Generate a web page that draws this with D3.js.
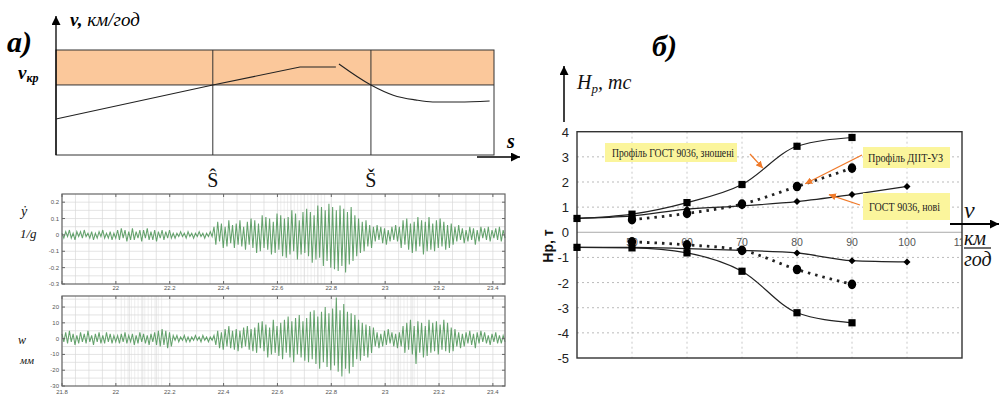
<!DOCTYPE html>
<html><head><meta charset="utf-8">
<script src="https://cdn.jsdelivr.net/npm/d3@7"></script>
<style>body{margin:0;background:#fff}svg{display:block}</style>
</head><body><svg id="c" width="999" height="398"></svg>
<script>
// ===== Panel a) speed profile along the track =====
const speedS1 = [0, 35.8, 55.7, 63.9];
const speedV1 = [34.3, 66.7, 83.8, 83.8];
const speedS2 = [64.6, 71.9, 77, 82, 86, 92, 99];
const speedV2 = [86.7, 66.7, 57, 52.5, 50.5, 50.5, 51.5];
const sMarks = [35.8, 71.9];
const sMarkLabels = ["Ŝ", "Š"];
const vCritical = 66.7;
const vBandTop = 100;

// ===== Vibration records (uniform sampling between start and end) =====
const sigStart = 21.8, sigEnd = 23.445;
// lateral acceleration, units of 0.01 (1/g)
const yDotValues = [
 1,-2,2,-1,3,-2,1,-3,2,-1,2,-2,3,-1,1,-2,2,-3,1,-2,2,-1,3,-2,1,-2,2,-3,1,-2,
 3,-3,4,-2,3,-4,2,-3,4,-3,2,-2,3,-4,3,-2,4,-3,2,-3,3,-4,2,-2,3,-3,2,-2,3,-2,
 1,-2,1,-1,2,-1,1,-2,2,-1,1,-2,1,-1,2,-1,1,-2,1,-1,2,-1,
 5,-6,8,-4,7,-8,5,-7,9,-5,6,-8,7,-6,9,-7,5,-9,8,-6,10,
 -8,9,-11,7,-10,12,-8,11,-9,10,-12,8,-11,13,
 -9,12,-13,10,-14,11,-12,15,-10,13,-15,9,-12,14,-11,
 16,-13,14,-17,12,-15,18,-14,17,-19,15,-16,19,-20,
 17,-21,15,-22,18,-19,16,-23,14,-18,17,-16,
 12,-13,10,-11,8,-10,9,-7,6,-8,
 5,-4,6,-3,5,-5,4,-6,3,-4,5,-3,6,-4,5,
 -8,9,-6,10,-9,7,-11,8,-10,11,-7,9,-12,8,-10,11,-9,7,-10,9,-8,10,-7,8,-9,6,-8,7,-6,
 5,-4,6,-3,4,-5,3,-4,5,-3,4,-6,3,-4,5,-2,4,-3,5,-4,3,-2,4,-3,5,-4,3,-2
];
// lateral displacement, mm
const wValues = [
 3,-2,4,-3,5,-2,3,-4,2,-3,4,-2,3,-3,5,-2,2,-4,3,-2,4,-3,2,-3,4,-2,3,-3,2,-2,
 2,-3,3,-2,4,-3,2,-2,3,-4,2,-3,4,-2,3,-3,2,-4,3,-2,4,
 -4,5,-5,6,-4,5,-6,4,-5,
 2,-1,2,-2,1,-1,2,-2,1,-2,1,-1,2,-1,1,-2,2,-1,1,-2,1,-1,2,
 -4,5,-6,4,-7,6,-5,8,-6,5,-7,6,-8,5,-6,7,-5,8,-7,6,-8,
 7,-9,10,-6,11,-8,9,-12,7,-10,12,-9,8,-11,
 10,-13,12,-9,14,-12,11,-15,13,-10,15,-12,11,-14,13,
 -15,17,-13,18,-16,14,-19,17,-15,20,-18,16,-20,19,
 -17,26,-21,18,-24,22,-19,17,-22,16,-18,15,
 -13,12,-14,10,-11,9,-12,8,-9,7,
 -5,4,-6,3,-5,5,-4,6,-3,4,-5,3,-6,4,-5,
 8,-9,10,-7,12,-10,8,-16,11,-9,10,-12,8,-11,12,-9,10,-8,11,-10,9,-7,12,-8,10,-9,7,-8,6,
 -5,4,-6,3,-5,4,-3,5,-4,3,-6,4,-3,5,-2,4,-3,2,-4,3,-2,4,-3,2,-3,2,-2
];
const yDotTicks = [0.2, 0.1, 0, -0.1, -0.2, -0.3];
const yDotTickLabels = ["0.2", "0.1", "0", "-0.1", "-0.2", "-0.3"];
const wTicks = [20, 10, 0, -10, -20, -30];
const sigXTicks = [21.8, 22, 22.2, 22.4, 22.6, 22.8, 23, 23.2, 23.4];
const sigXTickLabels = ["21.8", "22", "22.2", "22.4", "22.6", "22.8", "23", "23.2", "23.4"];

// ===== Panel б) frame force vs speed =====
const speedTicks = [50, 60, 70, 80, 90, 100, 110];
const forceTicks = [4, 3, 2, 1, 0, -1, -2, -3, -4, -5];
const wornSpeeds = [40, 50, 60, 70, 80, 90];
const wornUpper = [0.55, 0.72, 1.18, 1.9, 3.42, 3.77];
const wornLower = [-0.6, -0.62, -0.82, -1.55, -3.2, -3.6];
const diitSpeeds = [50, 60, 70, 80, 90];
const diitUpper = [0.5, 0.75, 1.12, 1.82, 2.55];
const diitLower = [-0.38, -0.5, -0.72, -1.48, -2.07];
const newSpeeds = [40, 50, 60, 70, 80, 90, 100];
const newUpper = [0.55, 0.65, 0.92, 1.05, 1.22, 1.5, 1.82];
const newLower = [-0.6, -0.6, -0.65, -0.72, -0.82, -1.13, -1.18];
const calloutLabels = ["Профіль ГОСТ 9036, зношені", "Профіль ДІІТ-УЗ", "ГОСТ 9036, нові"];

const SERIF = "'Liberation Serif','DejaVu Serif',serif";
const SANS = "'Liberation Sans',Arial,sans-serif";
const svg = d3.select("#c");
svg.append("rect").attr("width", 999).attr("height", 398).attr("fill", "#fff");
const defs = svg.append("defs");
function marker(id, color, size) {
  defs.append("marker").attr("id", id).attr("viewBox", "0 0 10 10")
    .attr("refX", 10).attr("refY", 5).attr("markerUnits", "userSpaceOnUse")
    .attr("markerWidth", size).attr("markerHeight", size).attr("orient", "auto")
    .append("path").attr("d", "M0,0L10,5L0,10z").attr("fill", color);
}
marker("ab", "#000", 9);
marker("ao", "#f07a2a", 7);
defs.append("clipPath").attr("id", "clip110").append("rect").attr("x", 900).attr("y", 230).attr("width", 62).attr("height", 20);

// ---------- Panel a ----------
const aX = d3.scaleLinear([0, 100], [56, 494]);
const aY = d3.scaleLinear([0, 100], [155, 50]);
const ga = svg.append("g");
ga.append("rect").attr("x", aX(0)).attr("y", aY(vBandTop))
  .attr("width", aX(100) - aX(0)).attr("height", aY(vCritical) - aY(vBandTop))
  .attr("fill", "#fbc89b");
ga.append("rect").attr("x", aX(0)).attr("y", aY(vBandTop))
  .attr("width", aX(100) - aX(0)).attr("height", aY(0) - aY(vBandTop))
  .attr("fill", "none").attr("stroke", "#333").attr("stroke-width", 1);
ga.append("line").attr("x1", aX(0)).attr("x2", aX(100)).attr("y1", aY(vCritical)).attr("y2", aY(vCritical))
  .attr("stroke", "#333").attr("stroke-width", 1);
sMarks.forEach((s, i) => {
  ga.append("line").attr("x1", aX(s)).attr("x2", aX(s)).attr("y1", aY(vBandTop)).attr("y2", aY(0))
    .attr("stroke", "#333").attr("stroke-width", 1);
  ga.append("text").attr("x", aX(s)).attr("y", 187).attr("text-anchor", "middle")
    .attr("font-family", SERIF).attr("font-size", 20).attr("fill", "#111").text(sMarkLabels[i]);
});
ga.append("line").attr("x1", aX(0)).attr("x2", aX(0)).attr("y1", aY(0)).attr("y2", 16)
  .attr("stroke", "#000").attr("stroke-width", 1.3).attr("marker-end", "url(#ab)");
ga.append("line").attr("x1", 477).attr("x2", 520).attr("y1", 157).attr("y2", 157)
  .attr("stroke", "#000").attr("stroke-width", 1.3).attr("marker-end", "url(#ab)");
const aLine1 = d3.line().x(i => aX(speedS1[i])).y(i => aY(speedV1[i]));
const aLine2 = d3.line().x(i => aX(speedS2[i])).y(i => aY(speedV2[i])).curve(d3.curveMonotoneX);
ga.append("path").attr("d", aLine1(d3.range(speedS1.length))).attr("fill", "none").attr("stroke", "#222").attr("stroke-width", 1.1);
ga.append("path").attr("d", aLine2(d3.range(speedS2.length))).attr("fill", "none").attr("stroke", "#222").attr("stroke-width", 1.1);
// labels
ga.append("text").attr("x", 7).attr("y", 52).attr("font-family", SERIF).attr("font-size", 30)
  .attr("font-weight", "bold").attr("font-style", "italic").attr("fill", "#000").text("a)");
const vt = ga.append("text").attr("x", 70).attr("y", 26).attr("font-family", SERIF).attr("font-size", 19)
  .attr("font-style", "italic").attr("fill", "#000");
vt.append("tspan").attr("font-weight", "bold").text("v,");
vt.append("tspan").text(" км/год");
const vk = ga.append("text").attr("x", 18).attr("y", 79).attr("font-family", SERIF).attr("font-size", 19)
  .attr("font-style", "italic").attr("font-weight", "bold").attr("fill", "#000");
vk.append("tspan").text("v");
vk.append("tspan").attr("font-size", 12).attr("dy", 3).text("кр");
ga.append("text").attr("x", 507).attr("y", 148).attr("font-family", SERIF).attr("font-size", 20)
  .attr("font-style", "italic").attr("font-weight", "bold").attr("fill", "#000").text("s");

// ---------- Signal panels ----------
const sx = d3.scaleLinear([sigStart, sigEnd], [62, 505]);
function signalPanel(values, unit, yDomain, yRange, gridStep, yTicks, yLabels, showFirstX, labelY, denseRanges) {
  const g = svg.append("g");
  const sy = d3.scaleLinear(yDomain, yRange);
  const [x0, x1] = sx.range();
  const [yb, yt] = yRange;
  d3.range(21.8, 23.45, 0.05).forEach(v => {
    g.append("line").attr("x1", sx(v)).attr("x2", sx(v)).attr("y1", yt).attr("y2", yb)
      .attr("stroke", "#d9d9d9").attr("stroke-width", 0.7);
  });
  denseRanges.forEach(r => d3.range(r[0], r[1], 0.0125).forEach(v => {
    g.append("line").attr("x1", sx(v)).attr("x2", sx(v)).attr("y1", yt).attr("y2", yb)
      .attr("stroke", "#e2e2e2").attr("stroke-width", 0.6);
  }));
  d3.range(yDomain[0] + gridStep, yDomain[1], gridStep).forEach(v => {
    g.append("line").attr("x1", x0).attr("x2", x1).attr("y1", sy(v)).attr("y2", sy(v))
      .attr("stroke", "#d9d9d9").attr("stroke-width", 0.7);
  });
  const n = values.length;
  const tAt = i => sigStart + i * (sigEnd - sigStart) / (n - 1);
  const line = d3.line().x((d, i) => sx(tAt(i))).y(d => sy(d * unit));
  g.append("path").attr("d", line(values)).attr("fill", "none")
    .attr("stroke", "#3f8c48").attr("stroke-width", 1.05).attr("stroke-opacity", 0.8);
  g.append("rect").attr("x", x0).attr("y", yt).attr("width", x1 - x0).attr("height", yb - yt)
    .attr("fill", "none").attr("stroke", "#666").attr("stroke-width", 1.2);
  sigXTicks.forEach((v, i) => {
    g.append("line").attr("x1", sx(v)).attr("x2", sx(v)).attr("y1", yb).attr("y2", yb - 3).attr("stroke", "#666");
    g.append("line").attr("x1", sx(v)).attr("x2", sx(v)).attr("y1", yt).attr("y2", yt + 3).attr("stroke", "#666");
    if (i > 0 || showFirstX)
      g.append("text").attr("x", sx(v)).attr("y", labelY).attr("text-anchor", "middle")
        .attr("font-family", SANS).attr("font-size", 6).attr("fill", "#555").text(sigXTickLabels[i]);
  });
  yTicks.forEach((v, i) => {
    g.append("line").attr("x1", x0).attr("x2", x0 + 3).attr("y1", sy(v)).attr("y2", sy(v)).attr("stroke", "#666");
    g.append("line").attr("x1", x1).attr("x2", x1 - 3).attr("y1", sy(v)).attr("y2", sy(v)).attr("stroke", "#666");
    g.append("text").attr("x", 59).attr("y", sy(v) + 2).attr("text-anchor", "end")
      .attr("font-family", SANS).attr("font-size", 6).attr("fill", "#555").text(yLabels[i]);
  });
  return g;
}
signalPanel(yDotValues, 0.01, [-0.3, 0.25], [284, 194], 0.05, yDotTicks, yDotTickLabels, false, 290, [[22.6, 22.78]]);
signalPanel(wValues, 1, [-30, 27], [386, 296], 5, wTicks, wTicks.map(String), true, 394, [[22.02, 22.18], [23.02, 23.13]]);
const lab = (x, y, t, s) => svg.append("text").attr("x", x).attr("y", y).attr("font-family", SERIF)
  .attr("font-size", s).attr("font-style", "italic").attr("fill", "#111").text(t);
lab(21, 216, "ẏ", 14);
lab(20, 238, "1/g", 13);
lab(18, 344, "w", 12);
lab(20, 364, "мм", 11);

// ---------- Panel б ----------
const xR = d3.scaleLinear([40, 110], [577, 962]);
const yR = d3.scaleLinear([-5, 4], [358, 131.7]);
const gb = svg.append("g");
speedTicks.slice(0, -1).forEach(v => {
  gb.append("line").attr("x1", xR(v)).attr("x2", xR(v)).attr("y1", yR(4)).attr("y2", yR(-5))
    .attr("stroke", "#bbb").attr("stroke-width", 0.8).attr("stroke-dasharray", "2,3");
});
forceTicks.forEach(v => {
  if (v === 4 || v === -5) return;
  gb.append("line").attr("x1", xR(40)).attr("x2", xR(110)).attr("y1", yR(v)).attr("y2", yR(v))
    .attr("stroke", "#aaa").attr("stroke-width", v === 0 ? 1 : 0.8)
    .attr("stroke-dasharray", v === 0 ? null : "2,3");
});
gb.append("rect").attr("x", xR(40)).attr("y", yR(4)).attr("width", xR(110) - xR(40)).attr("height", yR(-5) - yR(4))
  .attr("fill", "none").attr("stroke", "#333").attr("stroke-width", 1.4);
forceTicks.forEach(v => {
  gb.append("text").attr("x", 569).attr("y", yR(v) + 5).attr("text-anchor", "end")
    .attr("font-family", SANS).attr("font-size", 13).attr("fill", "#222").text(v);
});
speedTicks.forEach(v => {
  const t = gb.append("text").attr("x", xR(v)).attr("y", 246).attr("text-anchor", "middle")
    .attr("font-family", "'Liberation Sans Narrow','Liberation Sans',sans-serif").attr("font-size", 10.5).attr("fill", "#555").text(v);
  if (v === 110) t.attr("clip-path", "url(#clip110)");
});
function series(xs, ys, dotted, kind) {
  const idx = d3.range(xs.length);
  const line = d3.line().x(i => xR(xs[i])).y(i => yR(ys[i])).curve(d3.curveMonotoneX);
  gb.append("path").attr("d", line(idx)).attr("fill", "none").attr("stroke", "#222")
    .attr("stroke-width", dotted ? 2.8 : 1.2).attr("stroke-dasharray", dotted ? "2.5,5" : null);
  idx.forEach(i => {
    const cx = xR(xs[i]), cy = yR(ys[i]);
    if (kind === "square")
      gb.append("rect").attr("x", cx - 3.6).attr("y", cy - 3.6).attr("width", 7.2).attr("height", 7.2).attr("fill", "#000");
    else if (kind === "circle")
      gb.append("ellipse").attr("cx", cx).attr("cy", cy).attr("rx", 4.2).attr("ry", 4.8).attr("fill", "#000");
    else
      gb.append("path").attr("d", `M${cx},${cy - 3.5}L${cx + 3.5},${cy}L${cx},${cy + 3.5}L${cx - 3.5},${cy}Z`).attr("fill", "#000");
  });
}
series(newSpeeds, newUpper, false, "diamond");
series(newSpeeds, newLower, false, "diamond");
series(diitSpeeds, diitUpper, true, "circle");
series(diitSpeeds, diitLower, true, "circle");
series(wornSpeeds, wornUpper, false, "square");
series(wornSpeeds, wornLower, false, "square");

const callouts = [
  { box: [605, 143, 132, 19], tx: 612, ty: 157, tl: 122, from: [750, 154], to: [73.8, 2.55] },
  { box: [863, 147, 87, 21], tx: 868, ty: 162, tl: 75, from: [862, 155], to: [81.5, 1.93] },
  { box: [863, 193, 87, 27], tx: 869, ty: 211, tl: 71, from: [860, 205], to: [85.8, 1.5] }
];
callouts.forEach((c, i) => {
  gb.append("rect").attr("x", c.box[0]).attr("y", c.box[1]).attr("width", c.box[2]).attr("height", c.box[3]).attr("fill", "#fbf59c");
  gb.append("text").attr("x", c.tx).attr("y", c.ty).attr("font-family", SERIF).attr("font-size", 12)
    .attr("textLength", c.tl).attr("lengthAdjust", "spacingAndGlyphs").attr("fill", "#222").text(calloutLabels[i]);
  gb.append("line").attr("x1", c.from[0]).attr("y1", c.from[1]).attr("x2", xR(c.to[0])).attr("y2", yR(c.to[1]))
    .attr("stroke", "#f07a2a").attr("stroke-width", 1.3).attr("marker-end", "url(#ao)");
});
gb.append("line").attr("x1", 564).attr("x2", 564).attr("y1", 122).attr("y2", 66)
  .attr("stroke", "#000").attr("stroke-width", 1.5).attr("marker-end", "url(#ab)");
const ht = gb.append("text").attr("x", 577).attr("y", 89).attr("font-family", SERIF).attr("font-size", 20)
  .attr("font-style", "italic").attr("fill", "#111");
ht.append("tspan").text("H");
ht.append("tspan").attr("font-size", 13).attr("dy", 4).text("p");
ht.append("tspan").attr("dy", -4).text(", тс");
gb.append("text").attr("x", 652).attr("y", 56).attr("font-family", SERIF).attr("font-size", 30)
  .attr("font-weight", "bold").attr("font-style", "italic").attr("fill", "#000").text("б)");
gb.append("text").attr("transform", "translate(553,246) rotate(-90)").attr("text-anchor", "middle")
  .attr("font-family", SANS).attr("font-size", 14).attr("font-weight", "bold").attr("fill", "#111").text("Нр, т");
gb.append("line").attr("x1", 950).attr("x2", 999).attr("y1", 224).attr("y2", 224)
  .attr("stroke", "#000").attr("stroke-width", 1.8).attr("marker-end", "url(#ab)");
gb.append("rect").attr("x", 963).attr("y", 230).attr("width", 34).attr("height", 40).attr("fill", "#fff");
gb.append("text").attr("x", 964).attr("y", 218).attr("font-family", SERIF).attr("font-size", 24)
  .attr("font-style", "italic").attr("fill", "#111").text("v");
gb.append("text").attr("x", 964).attr("y", 245).attr("font-family", SERIF).attr("font-size", 20)
  .attr("font-style", "italic").attr("fill", "#111").text("км");
gb.append("line").attr("x1", 964).attr("x2", 991).attr("y1", 248).attr("y2", 248).attr("stroke", "#111").attr("stroke-width", 1.2);
gb.append("text").attr("x", 964).attr("y", 266).attr("font-family", SERIF).attr("font-size", 20)
  .attr("font-style", "italic").attr("fill", "#111").text("год");
</script></body></html>
